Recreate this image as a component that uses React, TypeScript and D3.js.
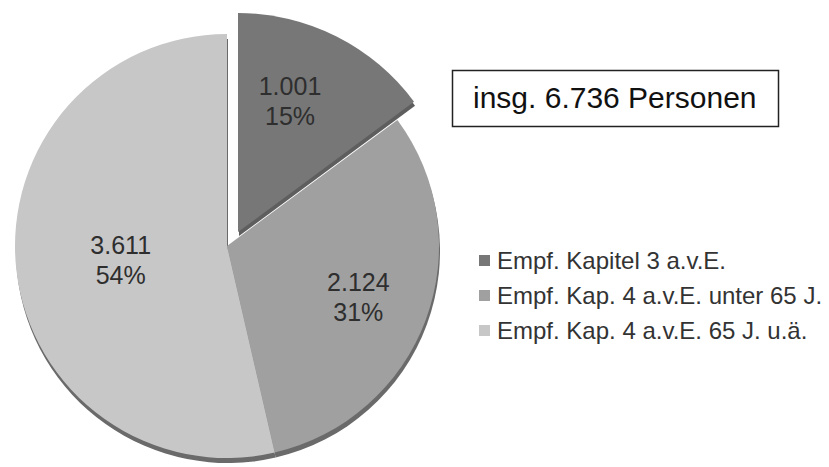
import React, { useEffect, useRef } from "react";
import * as d3 from "d3";

// data
const categories = [
  "Empf. Kapitel 3 a.v.E.",
  "Empf. Kap. 4 a.v.E. unter 65 J.",
  "Empf. Kap. 4 a.v.E. 65 J. u.ä.",
];
const values = [1001, 2124, 3611];
const valueLabels = ["1.001", "2.124", "3.611"];
const percentLabels = ["15%", "31%", "54%"];
const totalLabel = "insg. 6.736 Personen";

const colors = ["#777777", "#a0a0a0", "#c7c7c7"];

const W = 829;
const H = 467;

export default function App() {
  const ref = useRef<SVGSVGElement>(null);

  useEffect(() => {
    const svg = d3.select(ref.current);
    svg.selectAll("*").remove();

    const cx = 227;
    const cy = 246;
    const r = 212;
    const font = "'Liberation Sans', Arial, sans-serif";

    const pie = d3.pie<number>().sort(null).value((d) => d);
    const arcs = pie(values);
    const arc = d3.arc<d3.PieArcDatum<number>>().innerRadius(0).outerRadius(r);

    // explosion of the first slice
    const explode = (i: number) => (i === 0 ? [11, -14] : [0, 0]);
    const outerR = (i: number) => (i === 0 ? r + 7 : r);
    const labelR = [140, 140, 107];
    const labelShift = [[-11, -8], [0, 0], [0, 0]];

    const g = svg.append("g").attr("transform", `translate(${cx},${cy})`);

    // bottom rim (bevel shadow)
    g.selectAll("path.rim")
      .data(arcs.filter((d) => d.index !== 0))
      .join("path")
      .attr("class", "rim")
      .attr("transform", "translate(1,5)")
      .attr("d", (d) => arc.outerRadius(r)(d))
      .attr("fill", "#6a6a6a");
    g.append("path")
      .attr("transform", `translate(${explode(0)[0] + 1},${explode(0)[1] + 4})`)
      .attr("d", arc.outerRadius(outerR(0))(arcs[0]))
      .attr("fill", "#5e5e5e");

    g.selectAll("path.slice")
      .data(arcs)
      .join("path")
      .attr("class", "slice")
      .attr("transform", (d) => `translate(${explode(d.index)[0]},${explode(d.index)[1]})`)
      .attr("d", (d) => arc.outerRadius(outerR(d.index))(d))
      .attr("fill", (d) => colors[d.index]);

    // value labels
    arcs.forEach((d) => {
      const mid = (d.startAngle + d.endAngle) / 2;
      const lr = labelR[d.index];
      const x = explode(d.index)[0] + lr * Math.sin(mid) + labelShift[d.index][0];
      const y = explode(d.index)[1] - lr * Math.cos(mid) + labelShift[d.index][1];
      const t = g
        .append("text")
        .attr("x", x)
        .attr("y", y)
        .attr("text-anchor", "middle")
        .attr("font-family", font)
        .attr("font-size", 25)
        .attr("fill", "#2e2e2e");
      t.append("tspan").attr("x", x).attr("dy", "-0.15em").text(valueLabels[d.index]);
      t.append("tspan").attr("x", x).attr("dy", "1.2em").text(percentLabels[d.index]);
    });

    // total box
    svg
      .append("rect")
      .attr("x", 452.5)
      .attr("y", 70.5)
      .attr("width", 326)
      .attr("height", 56)
      .attr("fill", "#ffffff")
      .attr("stroke", "#222222")
      .attr("stroke-width", 1.5);
    svg
      .append("text")
      .attr("x", 473)
      .attr("y", 108)
      .attr("font-family", font)
      .attr("font-size", 30)
      .attr("fill", "#111111")
      .text(totalLabel);

    // legend
    const legend = svg.append("g").attr("transform", "translate(479,261)");
    const rowY = d3.scalePoint<string>().domain(categories).range([0, 70]);
    categories.forEach((c, i) => {
      legend
        .append("rect")
        .attr("x", 0)
        .attr("y", rowY(c)! - 6)
        .attr("width", 11)
        .attr("height", 11)
        .attr("fill", colors[i]);
      legend
        .append("text")
        .attr("x", 18)
        .attr("y", rowY(c)!)
        .attr("dy", "0.35em")
        .attr("font-family", font)
        .attr("font-size", 24)
        .attr("fill", "#333333")
        .text(c);
    });
  }, []);

  return (
    <svg
      ref={ref}
      width={W}
      height={H}
      style={{ position: "absolute", left: 0, top: 0, background: "#ffffff" }}
    />
  );
}
